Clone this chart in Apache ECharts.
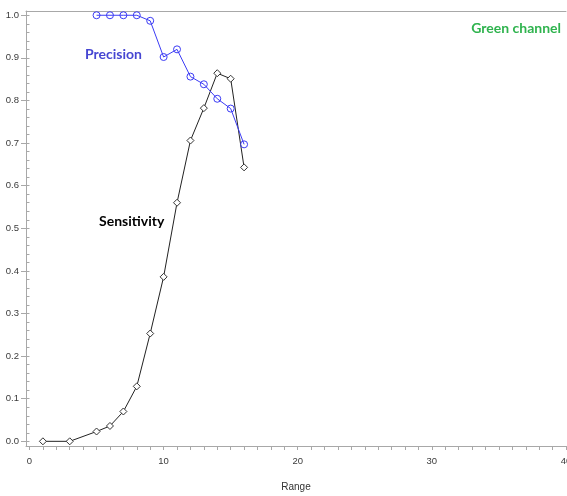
<!DOCTYPE html>
<html>
<head>
<meta charset="utf-8">
<script src="https://cdn.jsdelivr.net/npm/echarts@6/dist/echarts.min.js"></script>
<style>
html,body{margin:0;padding:0;background:#fff;}
#chart{width:567px;height:496px;}
</style>
</head>
<body>
<div id="chart"></div>
<script>
// Data
var rangeSens = [1, 3, 5, 6, 7, 8, 9, 10, 11, 12, 13, 14, 15, 16];
var sensitivity = [0.0, 0.0, 0.023, 0.036, 0.07, 0.129, 0.253, 0.386, 0.56, 0.706, 0.782, 0.864, 0.851, 0.643];
var rangePrec = [5, 6, 7, 8, 9, 10, 11, 12, 13, 14, 15, 16];
var precision = [1.0, 1.0, 1.0, 1.0, 0.987, 0.902, 0.92, 0.856, 0.838, 0.804, 0.781, 0.697];
var xTickLabels = [0, 10, 20, 30, 40];
var yTickLabels = [0, 0.1, 0.2, 0.3, 0.4, 0.5, 0.6, 0.7, 0.8, 0.9, 1.0];

var xMinorTicks = [];
for (var i = 0; i <= 40; i++) xMinorTicks.push(i);
var yMinorTicks = [];
for (var j = 0; j <= 50; j++) yMinorTicks.push(+(j * 0.02).toFixed(2));

function pairs(xs, ys) { return xs.map(function (x, k) { return [x, ys[k]]; }); }

var axisColor = '#a8a8a8';
var labelFont = { fontFamily: 'Liberation Sans', fontSize: 9.5, color: '#3a3a3a' };

var chart = echarts.init(document.getElementById('chart'), null, { renderer: 'canvas' });
chart.setOption({
  animation: false,
  backgroundColor: '#fff',
  grid: { left: 26, right: 1, top: 11, bottom: 50, containLabel: false, outerBoundsMode: 'none' },
  xAxis: [{
    type: 'value', min: -0.26, max: 40,
    name: 'Range', nameLocation: 'middle', nameGap: 36,
    nameTextStyle: { fontFamily: 'Liberation Sans', fontSize: 10, color: '#333' },
    axisLine: { show: true, onZero: false, lineStyle: { color: axisColor, width: 1 } },
    axisTick: { show: true, length: 4, customValues: xMinorTicks, lineStyle: { color: axisColor } },
    axisLabel: Object.assign({ customValues: xTickLabels, margin: 10, hideOverlap: false, formatter: function (v) { return String(v); } }, labelFont),
    splitLine: { show: false }
  }, {
    type: 'value', min: -0.26, max: 40, position: 'top',
    axisLine: { show: true, onZero: false, lineStyle: { color: axisColor, width: 1 } },
    axisTick: { show: false }, axisLabel: { show: false }, splitLine: { show: false }
  }],
  yAxis: [{
    type: 'value', min: -0.011, max: 1.01,
    axisLine: { show: true, onZero: false, lineStyle: { color: axisColor, width: 1 } },
    axisTick: { show: true, length: 5, customValues: yTickLabels, lineStyle: { color: axisColor } },
    axisLabel: Object.assign({ customValues: yTickLabels, margin: 7, formatter: function (v) { return v.toFixed(1); } }, labelFont),
    splitLine: { show: false }
  }, {
    type: 'value', min: -0.011, max: 1.01, position: 'left',
    axisLine: { show: false },
    axisTick: { show: true, length: 3, customValues: yMinorTicks, lineStyle: { color: axisColor } },
    axisLabel: { show: false }, splitLine: { show: false }
  }],
  series: [{
    name: 'Sensitivity', type: 'line', xAxisIndex: 0, yAxisIndex: 0,
    data: pairs(rangeSens, sensitivity),
    symbol: 'diamond', symbolSize: 7, showAllSymbol: true,
    lineStyle: { color: '#222', width: 1 },
    itemStyle: { color: '#fff', borderColor: '#333', borderWidth: 1 },
    z: 3
  }, {
    name: 'Precision', type: 'line', xAxisIndex: 0, yAxisIndex: 0,
    data: pairs(rangePrec, precision),
    symbol: 'circle', symbolSize: 7, showAllSymbol: true,
    lineStyle: { color: '#3c3cf5', width: 1 },
    itemStyle: { color: 'rgba(255,255,255,0)', borderColor: '#3c3cf5', borderWidth: 1 },
    z: 4
  }],
  graphic: [{
    type: 'text', left: 85, top: 47,
    style: { text: 'Precision', fill: '#4646d2', font: 'bold 14px Lato' }
  }, {
    type: 'text', left: 99, top: 214,
    style: { text: 'Sensitivity', fill: '#000', font: 'bold 14px Lato' }
  }, {
    type: 'text', right: 6, top: 21,
    style: { text: 'Green channel', fill: '#2fb34e', font: 'bold 14px Lato' }
  }]
});
</script>
</body>
</html>
